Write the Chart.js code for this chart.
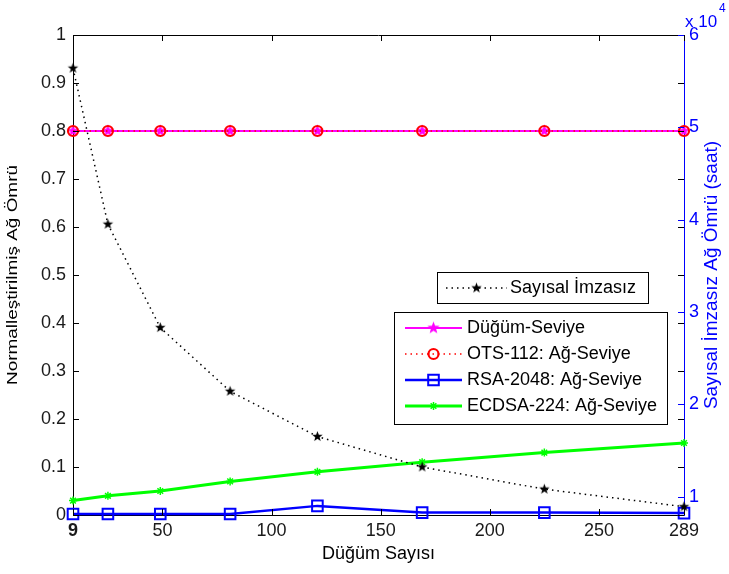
<!DOCTYPE html>
<html>
<head>
<meta charset="utf-8">
<script src="https://cdn.jsdelivr.net/npm/chart.js@4"></script>
<style>
  html, body { margin: 0; padding: 0; background: #fff; }
  #kutu { width: 729px; height: 574px; position: relative; }
</style>
</head>
<body>
<div id="kutu"><canvas id="chartOmur"></canvas></div>
<script>
// Düğüm sayıları (x ekseni)
const dugumSayisi = [9, 25, 49, 81, 121, 169, 225, 289];
const xTicks = [9, 50, 100, 150, 200, 250, 289];

// Sol eksen: normalleştirilmiş ağ ömrü
const dugumSeviye = [0.8, 0.8, 0.8, 0.8, 0.8, 0.8, 0.8, 0.8];
const ots112 = [0.8, 0.8, 0.8, 0.8, 0.8, 0.8, 0.8, 0.8];
const rsa2048 = [0.002, 0.002, 0.002, 0.002, 0.019, 0.005, 0.005, 0.004];
const ecdsa224 = [0.03, 0.04, 0.05, 0.07, 0.09, 0.11, 0.13, 0.15];
const solTicks = [0, 0.1, 0.2, 0.3, 0.4, 0.5, 0.6, 0.7, 0.8, 0.9, 1];

// Sağ eksen: sayısal imzasız ağ ömrü (saat)
const sayisalImzasiz = [56400, 39500, 28300, 21400, 16500, 13200, 10800, 8900];
const sagTicks = [10000, 20000, 30000, 40000, 50000, 60000];

const yazi = '"Liberation Sans", Arial, Helvetica, sans-serif';

// MATLAB tarzı dolu beş köşeli yıldız
function yildiz(renk, r) {
  const c = document.createElement('canvas');
  const s = Math.ceil(r * 2 + 2);
  c.width = s; c.height = s;
  const g = c.getContext('2d');
  g.fillStyle = renk;
  g.beginPath();
  for (let i = 0; i < 10; i++) {
    const rad = i % 2 === 0 ? r : r * 0.42;
    const a = -Math.PI / 2 + i * Math.PI / 5;
    const px = s / 2 + rad * Math.cos(a), py = s / 2 + rad * Math.sin(a);
    if (i === 0) g.moveTo(px, py); else g.lineTo(px, py);
  }
  g.closePath();
  g.fill();
  return c;
}
const siyahYildiz = yildiz('#000', 5.5);
const pembeYildiz = yildiz('#ff00ff', 6.5);

const nokta = arr => dugumSayisi.map((x, i) => ({ x: x, y: arr[i] }));

const seriler = [
  { label: 'Sayısal İmzasız', data: nokta(sayisalImzasiz), yAxisID: 'y1', order: 0,
    borderColor: '#000', borderWidth: 1.5, borderDash: [1.5, 4],
    pointStyle: siyahYildiz, pointRadius: 5, clip: false },
  { label: 'OTS-112: Ağ-Seviye', data: nokta(ots112), yAxisID: 'y', order: 1,
    borderColor: '#ff0000', borderWidth: 1.5, borderDash: [1.5, 4],
    pointStyle: 'circle', pointRadius: 5, pointBorderWidth: 2.2,
    pointBorderColor: '#ff0000', pointBackgroundColor: 'rgba(0,0,0,0)', clip: false },
  { label: 'Düğüm-Seviye', data: nokta(dugumSeviye), yAxisID: 'y', order: 2,
    borderColor: '#ff00ff', borderWidth: 2,
    pointStyle: pembeYildiz, pointRadius: 6, clip: false },
  { label: 'RSA-2048: Ağ-Seviye', data: nokta(rsa2048), yAxisID: 'y', order: 3,
    borderColor: '#0000ff', borderWidth: 2.5,
    pointStyle: 'rect', pointRadius: 7.5, pointBorderWidth: 2,
    pointBorderColor: '#0000ff', pointBackgroundColor: 'rgba(0,0,0,0)', clip: false },
  { label: 'ECDSA-224: Ağ-Seviye', data: nokta(ecdsa224), yAxisID: 'y', order: 4,
    borderColor: '#00ff00', borderWidth: 3,
    pointStyle: 'star', pointRadius: 4, pointBorderWidth: 1.5,
    pointBorderColor: '#00ff00', clip: false }
];

function cizgi(ctx, x1, y1, x2, y2) {
  ctx.beginPath(); ctx.moveTo(x1, y1); ctx.lineTo(x2, y2); ctx.stroke();
}

function ornekCiz(ctx, s, x1, x2, y) {
  ctx.save();
  ctx.strokeStyle = s.borderColor;
  ctx.lineWidth = s.borderWidth;
  ctx.setLineDash(s.borderDash || []);
  cizgi(ctx, x1, y, x2, y);
  ctx.setLineDash([]);
  const mx = (x1 + x2) / 2;
  if (typeof s.pointStyle === 'object') {
    ctx.drawImage(s.pointStyle, mx - s.pointStyle.width / 2, y - s.pointStyle.height / 2);
  } else {
    ctx.fillStyle = 'rgba(0,0,0,0)';
    ctx.strokeStyle = s.pointBorderColor;
    ctx.lineWidth = s.pointBorderWidth || 1;
    Chart.helpers.drawPoint(ctx, {
      pointStyle: s.pointStyle, radius: s.pointRadius, borderWidth: s.pointBorderWidth || 1, rotation: 0
    }, mx, y);
  }
  ctx.restore();
}

const cerceve = {
  id: 'cerceve',
  afterDraw(chart) {
    const { ctx, chartArea: a, scales } = chart;
    const r = v => Math.round(v) + 0.5;
    ctx.save();
    ctx.lineWidth = 1;
    ctx.strokeStyle = '#000';
    cizgi(ctx, a.left, r(a.top), a.right, r(a.top));
    xTicks.forEach(v => {
      const px = r(scales.x.getPixelForValue(v));
      cizgi(ctx, px, a.bottom, px, a.bottom - 6);
      cizgi(ctx, px, a.top, px, a.top + 6);
    });
    solTicks.forEach(v => {
      const py = r(scales.y.getPixelForValue(v));
      cizgi(ctx, a.left, py, a.left + 6, py);
      cizgi(ctx, a.right, py, a.right - 6, py);
    });
    ctx.strokeStyle = '#0000ff';
    sagTicks.forEach(v => {
      const py = r(scales.y1.getPixelForValue(v));
      cizgi(ctx, a.right, py, a.right - 6, py);
    });

    // eksen başlıkları
    ctx.fillStyle = '#000';
    ctx.textAlign = 'center';
    ctx.textBaseline = 'middle';
    ctx.font = '18px ' + yazi;
    ctx.fillText('Düğüm Sayısı', (a.left + a.right) / 2, 554);

    ctx.save();
    ctx.translate(13, (a.top + a.bottom) / 2);
    ctx.rotate(-Math.PI / 2);
    ctx.font = '15px ' + yazi;
    const solBaslik = 'Normalleştirilmiş Ağ Ömrü';
    const k = 220 / ctx.measureText(solBaslik).width;
    ctx.scale(k, 1);
    ctx.fillText(solBaslik, 0, 0);
    ctx.restore();

    ctx.save();
    ctx.fillStyle = '#0000ff';
    ctx.translate(712, (a.top + a.bottom) / 2);
    ctx.rotate(-Math.PI / 2);
    ctx.font = '19px ' + yazi;
    ctx.fillText('Sayısal İmzasız Ağ Ömrü (saat)', 0, 0);
    ctx.restore();

    // x 10^4
    ctx.fillStyle = '#0000ff';
    ctx.textAlign = 'left';
    ctx.textBaseline = 'alphabetic';
    ctx.font = '17px ' + yazi;
    ctx.fillText('x 10', 685, 27);
    ctx.font = '12px ' + yazi;
    ctx.fillText('4', 719, 12);

    // lejant 1
    ctx.fillStyle = '#fff';
    ctx.strokeStyle = '#000';
    ctx.fillRect(437, 272, 211, 31);
    ctx.strokeRect(437.5, 272.5, 211, 31);
    ornekCiz(ctx, seriler[0], 446, 507, 288);
    ctx.fillStyle = '#000';
    ctx.textBaseline = 'middle';
    ctx.font = '18px ' + yazi;
    ctx.fillText(seriler[0].label, 510, 288);

    // lejant 2
    ctx.fillStyle = '#fff';
    ctx.fillRect(394, 312, 273, 112);
    ctx.strokeStyle = '#000';
    ctx.strokeRect(394.5, 312.5, 273, 112);
    const sira = [seriler[2], seriler[1], seriler[3], seriler[4]];
    const satirY = [328, 354, 380, 406];
    sira.forEach((s, i) => {
      ornekCiz(ctx, s, 405, 462, satirY[i]);
      ctx.fillStyle = '#000';
      ctx.font = '18px ' + yazi;
      ctx.textAlign = 'left';
      ctx.textBaseline = 'middle';
      ctx.fillText(s.label, 467, satirY[i]);
    });
    ctx.restore();
  }
};

const tickYazi = { family: yazi, size: 18 };

new Chart(document.getElementById('chartOmur').getContext('2d'), {
  type: 'line',
  data: { datasets: seriler },
  options: {
    responsive: true,
    maintainAspectRatio: false,
    animation: false,
    layout: { padding: { top: 35, left: 0, right: 0, bottom: 0 } },
    plugins: { legend: { display: false }, tooltip: { enabled: false } },
    scales: {
      x: {
        type: 'linear', min: 9, max: 289,
        afterBuildTicks: s => { s.ticks = xTicks.map(v => ({ value: v })); },
        afterFit: s => { s.height = 59; },
        grid: { display: false, drawTicks: false },
        border: { display: true, color: '#000', width: 1 },
        ticks: {
          padding: 5, maxRotation: 0, autoSkip: false, color: '#1a1a1a',
          font: c => ({ family: yazi, size: 18, weight: c.tick && c.tick.value === 9 ? 'bold' : 'normal' })
        }
      },
      y: {
        position: 'left', min: 0, max: 1,
        afterBuildTicks: s => { s.ticks = solTicks.map(v => ({ value: v })); },
        afterFit: s => { s.width = 73; },
        grid: { display: false, drawTicks: false },
        border: { display: true, color: '#000', width: 1 },
        ticks: { padding: 7, color: '#1a1a1a', font: tickYazi,
          callback: v => String(Math.round(v * 10) / 10) }
      },
      y1: {
        position: 'right', min: 8000, max: 60000,
        afterBuildTicks: s => { s.ticks = sagTicks.map(v => ({ value: v })); },
        afterFit: s => { s.width = 45; },
        grid: { display: false, drawTicks: false },
        border: { display: true, color: '#0000ff', width: 1 },
        ticks: { padding: 5, color: '#0000ff', font: tickYazi,
          callback: v => String(v / 10000) }
      }
    }
  },
  plugins: [cerceve]
});
</script>
</body>
</html>
